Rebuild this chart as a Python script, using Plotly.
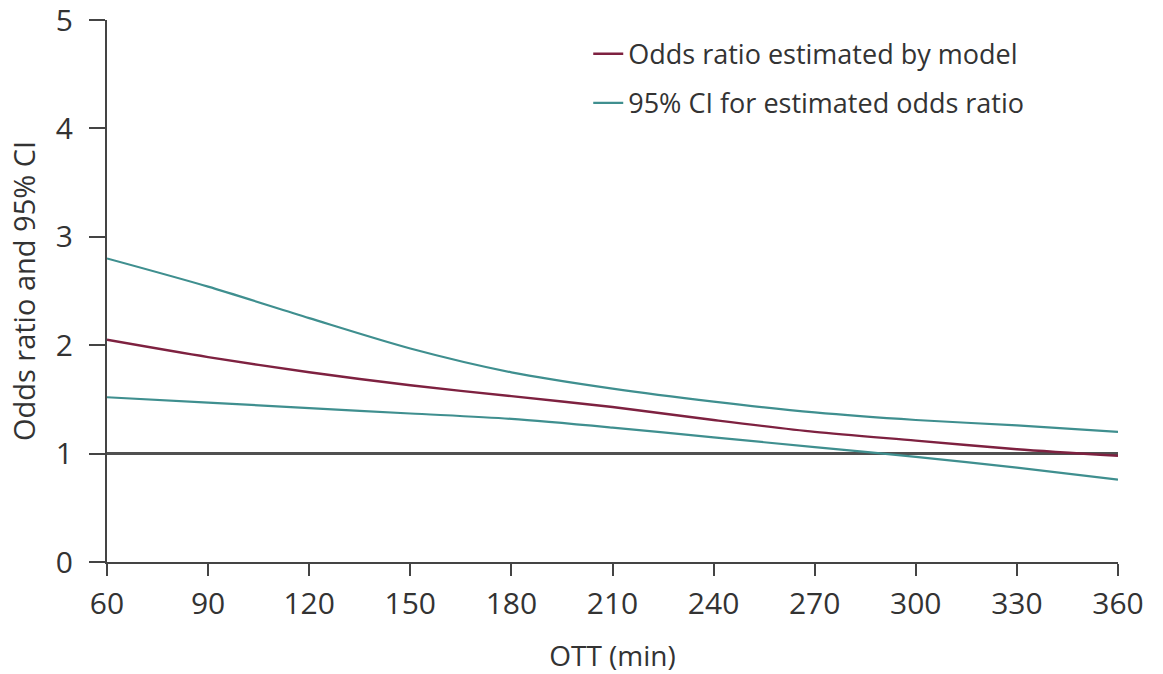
import plotly.graph_objects as go

ott_min = [60, 90, 120, 150, 180, 210, 240, 270, 300, 330, 360]
odds_ratio = [2.05, 1.89, 1.75, 1.63, 1.53, 1.43, 1.31, 1.20, 1.12, 1.04, 0.98]
ci_upper = [2.80, 2.54, 2.25, 1.97, 1.75, 1.60, 1.48, 1.38, 1.31, 1.26, 1.20]
ci_lower = [1.52, 1.47, 1.42, 1.37, 1.32, 1.24, 1.15, 1.06, 0.97, 0.87, 0.76]
reference_or = 1
x_ticks = [60, 90, 120, 150, 180, 210, 240, 270, 300, 330, 360]
y_ticks = [0, 1, 2, 3, 4, 5]

FONT = "Open Sans"
TXT = "#333333"
RED = "#7e2140"
TEAL = "#3f8f8f"
AXIS = "#444444"

fig = go.Figure()

fig.add_trace(go.Scatter(
    x=ott_min + [None] + ott_min,
    y=ci_upper + [None] + ci_lower,
    mode="lines", line=dict(color=TEAL, width=2.2, shape="spline", smoothing=0.8),
    name="95% CI for estimated odds ratio", legendgroup="b", connectgaps=False,
    legendrank=2,
))
fig.add_trace(go.Scatter(
    x=ott_min, y=odds_ratio,
    mode="lines", line=dict(color=RED, width=2.4, shape="spline", smoothing=0.8),
    name="Odds ratio estimated by model", legendgroup="a", legendrank=1,
))

fig.add_shape(type="line", xref="x", yref="y",
              x0=ott_min[0], x1=ott_min[-1], y0=reference_or, y1=reference_or,
              line=dict(color="#505050", width=3), layer="below")

fig.update_layout(
    width=1163, height=674,
    margin=dict(l=107, r=45, t=20, b=112),
    paper_bgcolor="white", plot_bgcolor="white",
    font=dict(family=FONT, size=24, color=TXT),
    showlegend=True,
    legend=dict(x=0.476, y=0.982, xanchor="left", yanchor="top",
                bgcolor="rgba(0,0,0,0)", font=dict(size=27, color=TXT),
                tracegroupgap=11, traceorder="grouped"),
    xaxis=dict(range=[60, 360], tickvals=x_ticks, ticktext=[str(v) for v in x_ticks],
               showgrid=False, zeroline=False, showline=True, linecolor=AXIS,
               linewidth=2, ticks="outside", ticklen=12, tickwidth=2, tickcolor=AXIS,
               automargin=False, ticklabelstandoff=2, ticklabeloverflow="allow",
               title=dict(text="OTT (min)", font=dict(size=28), standoff=27),
               tickfont=dict(size=30)),
    yaxis=dict(range=[0, 5], tickvals=y_ticks, showgrid=False, zeroline=False,
               showline=True, linecolor=AXIS, linewidth=2, ticks="outside",
               ticklen=16, tickwidth=2, tickcolor=AXIS, automargin=False,
               ticklabelstandoff=10, ticklabeloverflow="allow",
               title=dict(text="Odds ratio and 95% CI", font=dict(size=29), standoff=12),
               tickfont=dict(size=30)),
)

fig.write_html("out.html")
